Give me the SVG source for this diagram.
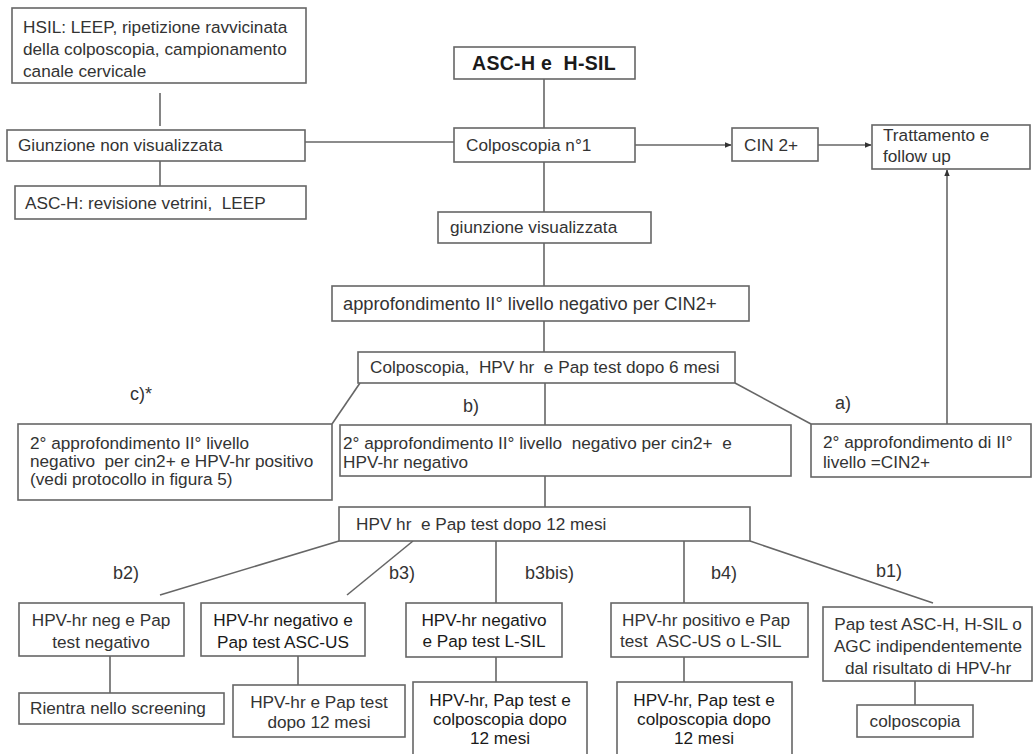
<svg xmlns="http://www.w3.org/2000/svg" width="1034" height="754" viewBox="0 0 1034 754">
<defs>
<style>
.b{fill:#fff;stroke:#666;stroke-width:1.6}
.t{font-family:"Liberation Sans",Arial,sans-serif;font-size:17.2px;fill:#333}
.d{fill:#1a1a1a}
.c{text-anchor:middle}
.l{font-family:"Liberation Sans",Arial,sans-serif;font-size:18px;fill:#333}
.k{stroke:#666;stroke-width:1.6;fill:none}
</style>
<marker id="ah" viewBox="0 0 10 10" refX="9" refY="5" markerWidth="7" markerHeight="7" orient="auto" markerUnits="userSpaceOnUse">
<path d="M0,1 L10,5 L0,9 z" fill="#333"/>
</marker>
</defs>
<rect width="1034" height="754" fill="#fff"/>
<g id="connectors">
<line class="k" x1="160" y1="93" x2="160" y2="126"/>
<line class="k" x1="160" y1="161" x2="160" y2="186"/>
<line class="k" x1="305" y1="142" x2="454" y2="142"/>
<line class="k" x1="544" y1="79" x2="544" y2="128"/>
<line class="k" x1="544" y1="162" x2="544" y2="212"/>
<line class="k" x1="635" y1="145" x2="731" y2="145" marker-end="url(#ah)"/>
<line class="k" x1="818" y1="145" x2="871" y2="145" marker-end="url(#ah)"/>
<line class="k" x1="947" y1="424" x2="947" y2="170" marker-end="url(#ah)"/>
<line class="k" x1="544" y1="243" x2="544" y2="286"/>
<line class="k" x1="544" y1="321" x2="544" y2="352"/>
<line class="k" x1="360" y1="383" x2="332" y2="424"/>
<line class="k" x1="545" y1="383" x2="545" y2="425"/>
<line class="k" x1="735" y1="383" x2="811" y2="424"/>
<line class="k" x1="545" y1="476" x2="545" y2="507"/>
<line class="k" x1="339" y1="541" x2="160" y2="595"/>
<line class="k" x1="413" y1="541" x2="347" y2="595"/>
<line class="k" x1="496" y1="541" x2="496" y2="603"/>
<line class="k" x1="684" y1="541" x2="684" y2="603"/>
<line class="k" x1="750" y1="541" x2="933" y2="603"/>
<line class="k" x1="110" y1="656" x2="110" y2="693"/>
<line class="k" x1="298" y1="656" x2="298" y2="685"/>
<line class="k" x1="496" y1="657" x2="496" y2="682"/>
<line class="k" x1="684" y1="657" x2="684" y2="682"/>
<line class="k" x1="915" y1="681" x2="915" y2="705"/>
</g>
<g id="labels">
<text class="l" x="130" y="400">c)*</text>
<text class="l" x="463" y="412">b)</text>
<text class="l" x="835" y="409">a)</text>
<text class="l" x="113" y="579">b2)</text>
<text class="l" x="389" y="579">b3)</text>
<text class="l" x="525" y="579">b3bis)</text>
<text class="l" x="711" y="579">b4)</text>
<text class="l" x="876" y="577">b1)</text>
</g>
<g id="n_hsil"><rect class="b" x="12" y="8" width="294" height="75"/>
<text class="t" x="23" y="33">HSIL: LEEP, ripetizione ravvicinata</text>
<text class="t" x="23" y="55">della colposcopia, campionamento</text>
<text class="t" x="23" y="77">canale cervicale</text></g>
<g id="n_giunz_non"><rect class="b" x="7" y="130" width="298" height="31"/>
<text class="t" x="18" y="151">Giunzione non visualizzata</text></g>
<g id="n_asch_rev"><rect class="b" x="15" y="186" width="291" height="33"/>
<text class="t" x="25" y="209">ASC-H: revisione vetrini,&#160; LEEP</text></g>
<g id="n_start"><rect class="b" x="454" y="47" width="181" height="32"/>
<text class="t c" x="544" y="70" style="font-weight:bold;font-size:19.5px;letter-spacing:0.3px;fill:#1a1a1a">ASC-H e&#160; H-SIL</text></g>
<g id="n_colpo1"><rect class="b" x="454" y="128" width="181" height="34"/>
<text class="t" x="466" y="151">Colposcopia n°1</text></g>
<g id="n_cin2"><rect class="b" x="732" y="128" width="86" height="33"/>
<text class="t" x="744" y="151">CIN 2+</text></g>
<g id="n_tratt"><rect class="b" x="872" y="125" width="158" height="44"/>
<text class="t" x="883" y="141">Trattamento e</text>
<text class="t" x="883" y="162">follow up</text></g>
<g id="n_giunz_vis"><rect class="b" x="438" y="212" width="213" height="31"/>
<text class="t" x="450" y="233">giunzione visualizzata</text></g>
<g id="n_approf"><rect class="b" x="332" y="286" width="417" height="35"/>
<text class="t" x="343" y="310" style="font-size:18.3px">approfondimento II° livello negativo per CIN2+</text></g>
<g id="n_colpo6"><rect class="b" x="358" y="352" width="377" height="31"/>
<text class="t" x="370" y="373">Colposcopia,&#160; HPV hr&#160; e Pap test dopo 6 mesi</text></g>
<g id="n_c"><rect class="b" x="18" y="424" width="314" height="76"/>
<text class="t" x="30" y="449">2° approfondimento II° livello</text>
<text class="t" x="30" y="467">negativo&#160; per cin2+ e HPV-hr positivo</text>
<text class="t" x="30" y="485">(vedi protocollo in figura 5)</text></g>
<g id="n_b"><rect class="b" x="340" y="425" width="451" height="51"/>
<text class="t" x="343" y="449">2° approfondimento II° livello&#160; negativo per cin2+&#160; e</text>
<text class="t" x="343" y="468">HPV-hr negativo</text></g>
<g id="n_a"><rect class="b" x="811" y="424" width="220" height="53"/>
<text class="t" x="823" y="448">2° approfondimento di II°</text>
<text class="t" x="823" y="468">livello =CIN2+</text></g>
<g id="n_hpv12"><rect class="b" x="339" y="507" width="411" height="34"/>
<text class="t" x="356" y="530">HPV hr&#160; e Pap test dopo 12 mesi</text></g>
<g id="n_b2"><rect class="b" x="19" y="603" width="165" height="53"/>
<text class="t c" x="101" y="626">HPV-hr neg e Pap</text>
<text class="t c" x="101" y="648">test negativo</text></g>
<g id="n_rientra"><rect class="b" x="19" y="693" width="205" height="31"/>
<text class="t" x="30" y="714">Rientra nello screening</text></g>
<g id="n_b3"><rect class="b" x="201" y="603" width="164" height="53"/>
<text class="t c d" x="283" y="626">HPV-hr negativo e</text>
<text class="t c d" x="283" y="648">Pap test ASC-US</text></g>
<g id="n_b3f"><rect class="b" x="233" y="685" width="172" height="52"/>
<text class="t c" x="319" y="708">HPV-hr e Pap test</text>
<text class="t c" x="319" y="728">dopo 12 mesi</text></g>
<g id="n_b3bis"><rect class="b" x="406" y="603" width="156" height="54"/>
<text class="t c d" x="484" y="626">HPV-hr negativo</text>
<text class="t c d" x="484" y="647">e Pap test L-SIL</text></g>
<g id="n_b3bisf"><rect class="b" x="413" y="682" width="174" height="80"/>
<text class="t c d" x="500" y="706">HPV-hr, Pap test e</text>
<text class="t c d" x="500" y="725">colposcopia dopo</text>
<text class="t c d" x="500" y="744">12 mesi</text></g>
<g id="n_b4"><rect class="b" x="611" y="603" width="197" height="54"/>
<text class="t" x="622" y="626">HPV-hr positivo e Pap</text>
<text class="t" x="620" y="647">test&#160; ASC-US o L-SIL</text></g>
<g id="n_b4f"><rect class="b" x="617" y="682" width="175" height="80"/>
<text class="t c d" x="704" y="706">HPV-hr, Pap test e</text>
<text class="t c d" x="704" y="725">colposcopia dopo</text>
<text class="t c d" x="704" y="744">12 mesi</text></g>
<g id="n_b1"><rect class="b" x="823" y="607" width="209" height="74"/>
<text class="t c" x="928" y="630">Pap test ASC-H, H-SIL o</text>
<text class="t c" x="928" y="652">AGC indipendentemente</text>
<text class="t c" x="928" y="674">dal risultato di HPV-hr</text></g>
<g id="n_colpo"><rect class="b" x="857" y="705" width="116" height="32"/>
<text class="t c" x="915" y="727">colposcopia</text></g>
</svg>
